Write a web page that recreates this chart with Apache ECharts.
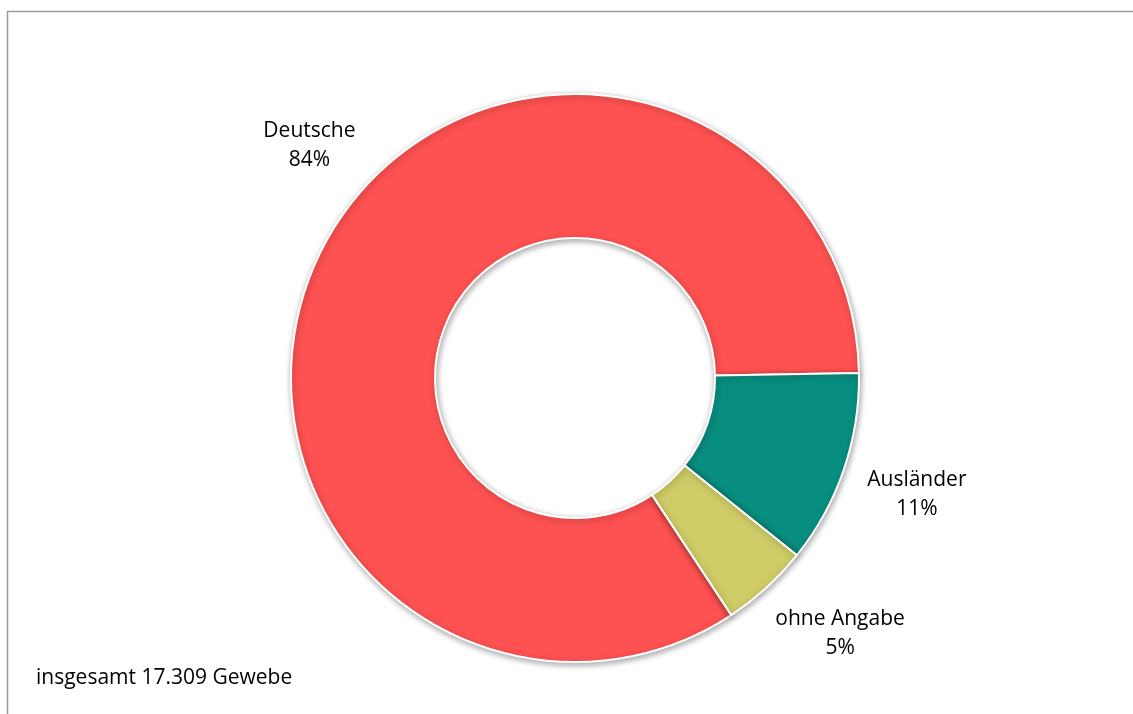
<!DOCTYPE html>
<html>
<head>
<meta charset="utf-8">
<script src="https://cdn.jsdelivr.net/npm/echarts@6/dist/echarts.min.js"></script>
<style>
  html, body { margin: 0; padding: 0; background: #fff; }
  #main { width: 1133px; height: 714px; }
</style>
</head>
<body>
<div id="main"></div>
<script>
// Anteil der Gewerbeanmeldungen nach Staatsangehörigkeit
var names = ['Deutsche', 'Ausländer', 'ohne Angabe'];
var values = [84, 11, 5];
var colors = ['#FE5151', '#088E7F', '#CFCC67'];
var totalText = 'insgesamt 17.309 Gewebe';

// Verschiebung der Beschriftungen (nur Optik)
function labelShift(name) {
    if (name === 'Deutsche') return [57, -65];
    if (name === 'ohne Angabe') return [18, -10];
    return [-3, 1];
}

var pieData = names.map(function (n, i) {
    return { name: n, value: values[i], itemStyle: { color: colors[i] } };
});

var option = {
    animation: false,
    textStyle: { fontFamily: 'Open Sans' },
    graphic: [
        {
            type: 'polyline',
            shape: { points: [[7.5, 714], [7.5, 11.5], [1133, 11.5]] },
            style: { stroke: '#9a9a9a', lineWidth: 1.5, fill: null }
        },
        {
            type: 'text',
            left: 36,
            top: 668,
            style: {
                text: totalText,
                fill: '#000',
                font: '21px "Open Sans"'
            }
        }
    ],
    series: [
        {
            type: 'pie',
            center: [575, 378],
            radius: [140, 284],
            startAngle: 0.84 * 360 + 1,
            clockwise: true,
            data: pieData,
            itemStyle: {
                borderColor: '#fff',
                borderWidth: 2,
                shadowBlur: 6,
                shadowOffsetX: 1,
                shadowOffsetY: 2,
                shadowColor: 'rgba(0,0,0,0.35)'
            },
            label: {
                show: true,
                position: 'outside',
                formatter: '{b}\n{c}%',
                color: '#000',
                fontSize: 21,
                lineHeight: 29,
                fontFamily: 'Open Sans'
            },
            labelLine: { show: false, length: 75, length2: 0 },
            labelLayout: function (params) {
                var s = labelShift(names[params.dataIndex]);
                return { dx: s[0], dy: s[1], align: 'center', verticalAlign: 'middle' };
            },
            emphasis: { disabled: true }
        }
    ]
};

var myChart = echarts.init(document.getElementById('main'));
myChart.setOption(option);
</script>
</body>
</html>
